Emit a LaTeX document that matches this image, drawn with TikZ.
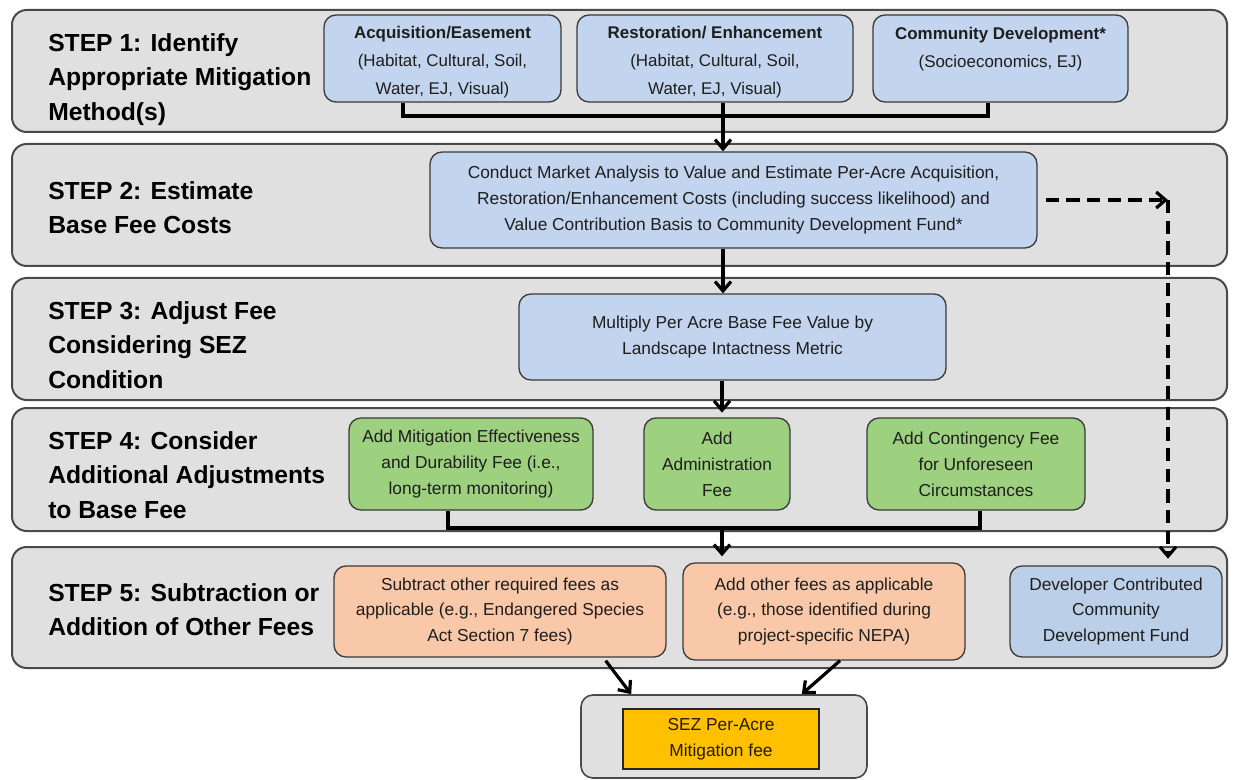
\documentclass[tikz,border=0pt]{standalone}
\usepackage{fontspec}
\setmainfont{Liberation Sans}
\usetikzlibrary{arrows.meta,calc}
\definecolor{bandfill}{HTML}{E0E0E0}
\definecolor{bandline}{HTML}{4A4A4A}
\definecolor{boxline}{HTML}{3A3A3A}
\definecolor{bluefill}{HTML}{C3D4EE}
\definecolor{devfill}{HTML}{BCCFE8}
\definecolor{greenfill}{HTML}{9DD17F}
\definecolor{peachfill}{HTML}{F9C8A8}
\definecolor{goldfill}{HTML}{FFC000}
\definecolor{txt}{HTML}{1E1E1E}
\begin{document}
\begin{tikzpicture}[x=0.75pt,y=-0.75pt,
  band/.style={draw=bandline,fill=bandfill,line width=1.5pt,rounded corners=11pt,
    minimum width=911.25pt,inner sep=0pt},
  steplabel/.style={anchor=north west,inner sep=0pt,align=left,text=black,
    font=\fontsize{18.5}{26}\selectfont\bfseries},
  box/.style={draw=boxline,line width=1pt,rounded corners=9pt,align=center,
    inner sep=2pt,text=txt,font=\fontsize{13}{19.4}\selectfont},
  topbox/.style={box,fill=bluefill,font=\fontsize{12.7}{21}\selectfont,
    minimum height=65.25pt},
  bluebox/.style={box,fill=bluefill},
  greenbox/.style={box,fill=greenfill,minimum height=69pt},
  peachbox/.style={box,fill=peachfill},
  conn/.style={line width=2.6pt,draw=black},
  arr/.style={line width=2.4pt,draw=black,-{Straight Barb[length=7pt,width=12pt]}},
  darr/.style={line width=2.4pt,draw=black,dash pattern=on 10pt off 5.5pt,
    -{Straight Barb[length=7pt,width=12pt]}}
]
\useasboundingbox (0,0) rectangle (1238,780);
\fill[white] (0,0) rectangle (1238,780);

% bands
\node[band,minimum height=91.5pt] (b1) at (619.5,71) {};
\node[band,minimum height=91.5pt] (b2) at (619.5,205) {};
\node[band,minimum height=91.5pt] (b3) at (619.5,339) {};
\node[band,minimum height=92.25pt] (b4) at (619.5,469.5) {};
\node[band,minimum height=90.75pt] (b5) at (619.5,607.5) {};

% step labels
\node[steplabel] (l1) at (48,33) {STEP 1: Identify\\Appropriate Mitigation\\Method(s)};
\node[steplabel] (l2) at (48,181) {STEP 2: Estimate\\Base Fee Costs};
\node[steplabel] (l3) at (48,301) {STEP 3: Adjust Fee\\Considering SEZ\\Condition};
\node[steplabel] (l4) at (48,431) {STEP 4: Consider\\Additional Adjustments\\to Base Fee};
\node[steplabel] (l5) at (48,583) {STEP 5: Subtraction or\\Addition of Other Fees};

% step 1 boxes
\node[topbox,minimum width=177.75pt] (acq) at (442.5,58.5)
  {\rule{0pt}{14pt}\textbf{Acquisition/Easement}\\(Habitat, Cultural, Soil,\\Water, EJ, Visual)};
\node[topbox,minimum width=207pt] (rest) at (715,58.5)
  {\rule{0pt}{14pt}\textbf{Restoration/ Enhancement}\\(Habitat, Cultural, Soil,\\Water, EJ, Visual)};
\node[topbox,minimum width=191.25pt] (comm) at (1000.5,58.5)
  {\rule{0pt}{14pt}\textbf{Community Development*}\\(Socioeconomics, EJ)\\ \mbox{}};

% step 2
\node[bluebox,minimum width=455.25pt,minimum height=72pt] (s2) at (733.5,200)
  {Conduct Market Analysis to Value and Estimate Per-Acre Acquisition,\\
   Restoration/Enhancement Costs (including success likelihood) and\\
   Value Contribution Basis to Community Development Fund*};

% step 3
\node[bluebox,minimum width=320.25pt,minimum height=64.5pt] (s3) at (732.5,337)
  {Multiply Per Acre Base Fee Value by\\Landscape Intactness Metric};

% step 4
\node[greenbox,minimum width=183pt] (mit) at (471,464)
  {Add Mitigation Effectiveness\\and Durability Fee (i.e.,\\long-term monitoring)};
\node[greenbox,minimum width=109.5pt] (adm) at (717,464)
  {Add\\Administration\\Fee};
\node[greenbox,minimum width=163.5pt] (cont) at (976,464)
  {Add Contingency Fee\\for Unforeseen\\Circumstances};

% step 5
\node[peachbox,minimum width=249pt,minimum height=68.25pt] (sub) at (500,611.5)
  {Subtract other required fees as\\applicable (e.g., Endangered Species\\Act Section 7 fees)};
\node[peachbox,minimum width=211.5pt,minimum height=72.75pt] (add) at (824,611.5)
  {Add other fees as applicable\\(e.g., those identified during\\project-specific NEPA)};
\node[box,fill=devfill,minimum width=159pt,minimum height=68.25pt] (dev) at (1116,611.5)
  {Developer Contributed\\Community\\Development Fund};

% final fee
\node[band,minimum width=214.5pt,minimum height=62.25pt,rounded corners=9pt,line width=1.2pt] (sezo) at (724,736.5) {};
\node[draw=black!85,line width=1.2pt,fill=goldfill,minimum width=147pt,minimum height=45pt,
  align=center,inner sep=0pt,text=black!80!brown,font=\fontsize{13}{19.4}\selectfont] (sezi) at (721,739)
  {SEZ Per-Acre\\Mitigation fee};

% connectors
\coordinate (j1) at (723,116);
\coordinate (j4) at (722,528);
\coordinate (dc) at (1168,200);

\draw[conn] ($(acq.south)+(-39.5,0)$) |- (j1) -| ($(comm.south)+(-12.5,0)$);
\draw[conn] (rest.south -| j1) -- (j1);
\draw[arr] (j1) -- (j1 |- s2.north);
\draw[arr] (s2.south -| j1) -- (s3.north -| j1);
\draw[arr,shorten >=3.5pt] (s3.south -| j4) -- (adm.north -| j4);
\draw[conn] ($(mit.south)+(-23,0)$) |- (j4) -| ($(cont.south)+(4,0)$);
\draw[arr,shorten >=4.5pt] (j4) -- (j4 |- add.north);
\draw[darr] ($(s2.east)+(8,0)$) -- (dc);
\draw[darr,shorten >=5pt] (dc) -- (dc |- dev.north);
\draw[arr] ($(sub.south east)+(-61,3)$) -- ($(sezo.north west)+(51,0)$);
\draw[arr] ($(add.south)+(16,0)$) -- ($(sezo.north east)+(-66,0)$);
\end{tikzpicture}
\end{document}
